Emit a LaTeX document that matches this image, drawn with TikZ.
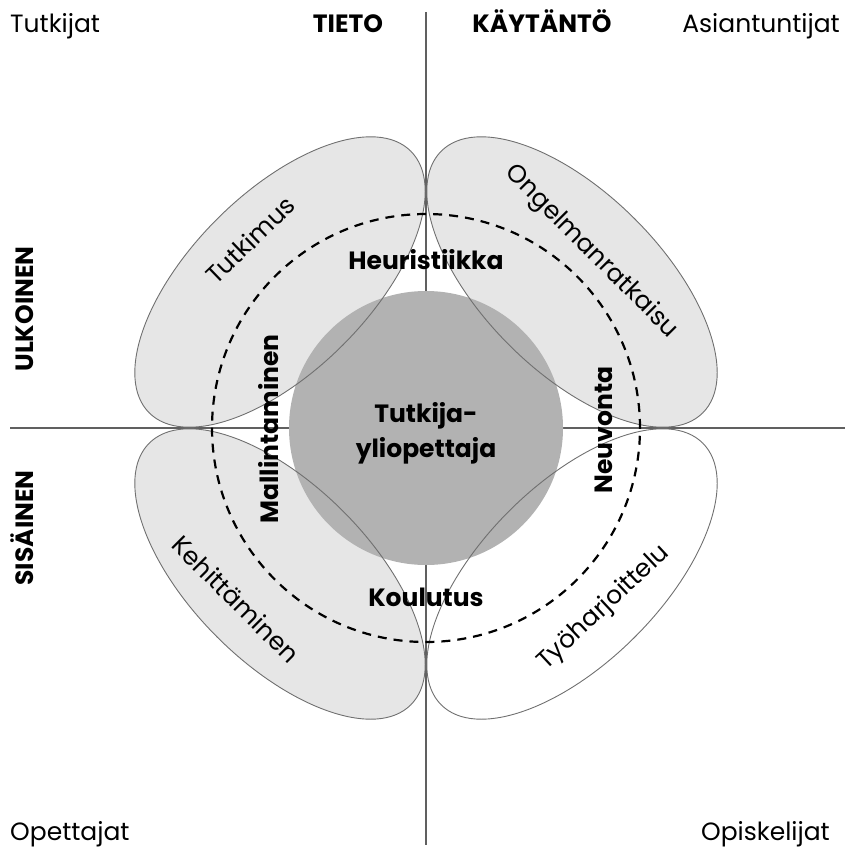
\documentclass[tikz,border=0pt]{standalone}
\usepackage{fontspec}
\setmainfont{Poppins}
\definecolor{petalgrey}{HTML}{E6E6E6}
\definecolor{coregrey}{HTML}{B2B2B2}
\definecolor{edgegrey}{HTML}{707070}
\definecolor{axisgrey}{HTML}{606060}
\begin{document}
\begin{tikzpicture}[x=1pt,y=1pt,
  petal/.style={fill=petalgrey},
  petaledge/.style={draw=edgegrey, line width=0.9pt},
  axisline/.style={draw=axisgrey, line width=1.1pt},
  ring/.style={draw=black, line width=2.2pt, dash pattern=on 9pt off 7pt},
  lbl/.style={font=\fontsize{25}{28}\selectfont, inner sep=0pt},
  blbl/.style={font=\fontsize{25}{28}\selectfont\bfseries, inner sep=0pt},
]
\useasboundingbox (0,0) rectangle (846,-850);

% centre and petal centres
\coordinate (O) at (426,-428);
\coordinate (TL) at (280,-282);
\coordinate (TR) at (572,-282);
\coordinate (BL) at (280,-574);
\coordinate (BR) at (572,-574);

% petal fills (the lower right one stays white)
\fill[petal, rotate around={45:(TL)}] (TL) ellipse [x radius=185, y radius=89];
\fill[petal, rotate around={-45:(TR)}] (TR) ellipse [x radius=185, y radius=89];
\fill[petal, rotate around={-45:(BL)}] (BL) ellipse [x radius=185, y radius=89];

% axes
\coordinate (axT) at (426,-12);
\coordinate (axB) at (426,-845);
\coordinate (axL) at (10,-428);
\coordinate (axR) at (845,-428);
\draw[axisline] (axT) -- (axB);
\draw[axisline] (axL) -- (axR);

% core
\node[circle, fill=coregrey, minimum size=274pt, inner sep=0pt] (core) at (O) {};

% petal outlines
\draw[petaledge, rotate around={45:(TL)}] (TL) ellipse [x radius=185, y radius=89];
\draw[petaledge, rotate around={-45:(TR)}] (TR) ellipse [x radius=185, y radius=89];
\draw[petaledge, rotate around={-45:(BL)}] (BL) ellipse [x radius=185, y radius=89];
\draw[petaledge, rotate around={45:(BR)}] (BR) ellipse [x radius=185, y radius=89];

% dashed ring
\draw[ring] (O) circle [radius=214];

% corner labels
\node[lbl, anchor=base west] (tutkijat) at (10,-33) {Tutkijat};
\node[lbl, anchor=base east] (asiant) at (840,-33) {Asiantuntijat};
\node[lbl, anchor=base west] (opettajat) at (10,-840) {Opettajat};
\node[lbl, anchor=base east] (opisk) at (830,-840) {Opiskelijat};

% axis headings
\node[blbl, anchor=base] (tieto) at (348,-33) {TIETO};
\node[blbl, anchor=base] (kaytanto) at (542,-33) {KÄYTÄNTÖ};
\node[blbl, anchor=base, rotate=90] (ulkoinen) at (33,-309) {ULKOINEN};
\node[blbl, anchor=base, rotate=90] (sisainen) at (33,-528) {SISÄINEN};

% core text
\node[blbl, anchor=base] (tutkija) at (426,-422) {Tutkija-};
\node[blbl, anchor=base] (yliop) at (426,-457) {yliopettaja};

% ring labels
\node[blbl, anchor=base] (heur) at (426,-269) {Heuristiikka};
\node[blbl, anchor=base] (koul) at (426,-606) {Koulutus};
\node[blbl, anchor=base, rotate=90] (mall) at (278,-429) {Mallintaminen};
\node[blbl, anchor=base, rotate=90] (neuv) at (612,-430) {Neuvonta};

% petal labels
\node[lbl, rotate=44] (tutkimus) at (250,-240) {Tutkimus};
\node[lbl, rotate=-45] (ongelma) at (591,-252) {Ongelmanratkaisu};
\node[lbl, rotate=-45] (kehitt) at (236,-599) {Kehittäminen};
\node[lbl, rotate=43] (tyohar) at (604,-608) {Työharjoittelu};
\end{tikzpicture}
\end{document}
